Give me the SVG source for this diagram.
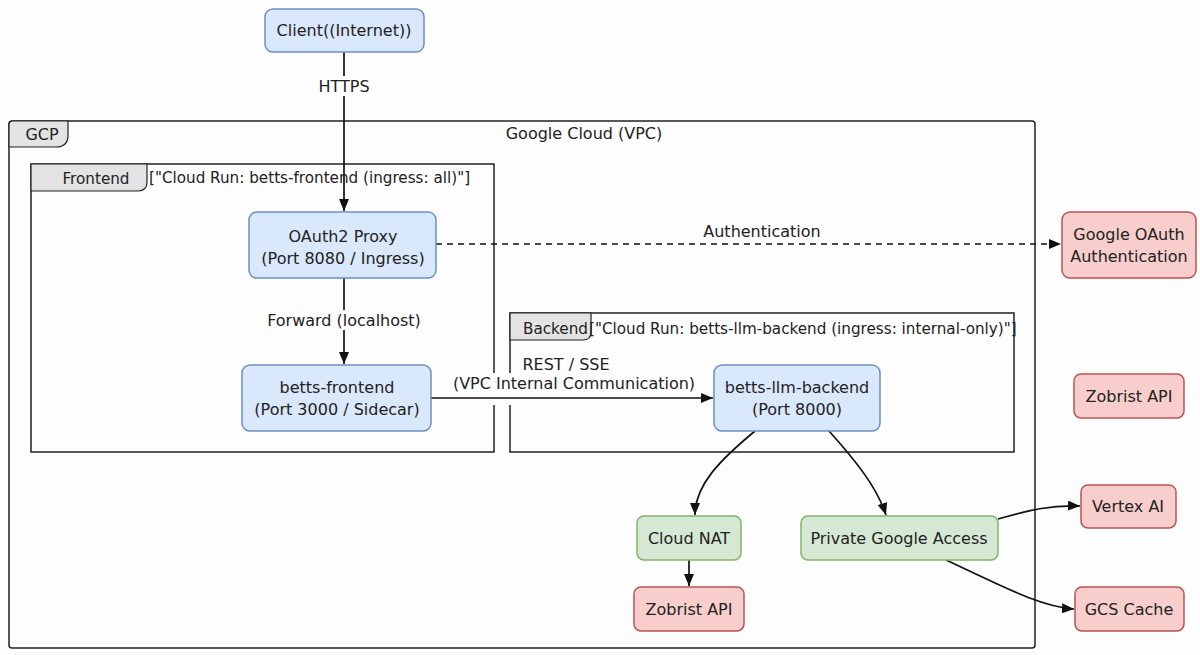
<svg xmlns="http://www.w3.org/2000/svg" width="1200" height="655" viewBox="0 0 1200 655">
<style>
text{font-family:"DejaVu Sans","Liberation Sans",sans-serif;font-size:16px;fill:#222;}
.c{text-anchor:middle;}
.hdr{font-size:15.2px;}
.blue{fill:#dae8fc;stroke:#6c8ebf;stroke-width:1.5;}
.green{fill:#d5e8d4;stroke:#82b366;stroke-width:1.5;}
.red{fill:#f8cecc;stroke:#b85450;stroke-width:1.5;}
.grp{fill:none;stroke:#222;stroke-width:1.5;}
.tab{fill:#e3e3e3;stroke:#222;stroke-width:1.2;}
.edge{fill:none;stroke:#111;stroke-width:1.7;}
.lbl{fill:#fdfdfd;}
</style>
<defs>
<marker id="ah" viewBox="0 0 12 10" refX="12" refY="5" markerWidth="12" markerHeight="10" markerUnits="userSpaceOnUse" orient="auto">
<path d="M0,0 L12,5 L0,10 Z" fill="#111"/>
</marker>
</defs>
<rect width="1200" height="655" fill="#fdfdfd"/>

<g id="gcp">
<rect class="grp" x="9" y="121" width="1026" height="527" rx="3"/>
<path class="tab" d="M9,147 L9,125 Q9,121 13,121 L68,121 L68,135 Q68,147 56,147 Z"/>
<text class="c" x="42" y="140">GCP</text>
<text class="c" x="584" y="139">Google Cloud (VPC)</text>
</g>

<g id="frontend-group">
<rect class="grp" x="31" y="164" width="463" height="288"/>
<path class="tab" d="M31,191 L31,164 L147,164 L147,182 Q147,191 138,191 Z"/>
<text class="c hdr" x="96" y="184">Frontend</text>
<text class="hdr" x="149" y="183">["Cloud Run: betts-frontend (ingress: all)"]</text>
</g>

<g id="backend-group">
<rect class="grp" x="510" y="313" width="504" height="139"/>
<path class="tab" d="M510,340 L510,313 L591,313 L591,332 Q591,340 583,340 Z"/>
<text class="hdr" x="523" y="334">Backend</text>
<text class="hdr" x="589" y="334">["Cloud Run: betts-llm-backend (ingress: internal-only)"]</text>
</g>

<g id="edges">
<path class="edge" d="M344,52 L344,211" marker-end="url(#ah)"/>
<rect class="lbl" x="313" y="76" width="62" height="20"/>
<text class="c" x="344" y="92">HTTPS</text>

<path class="edge" d="M344,278 L344,364" marker-end="url(#ah)"/>
<rect class="lbl" x="266" y="310" width="156" height="20"/>
<text class="c" x="344" y="326">Forward (localhost)</text>

<rect class="lbl" x="455" y="373" width="240" height="32"/>
<path class="edge" d="M431,398 L713,398" marker-end="url(#ah)"/>
<text class="c" x="566" y="370">REST / SSE</text>
<text class="c" x="574" y="389">(VPC Internal Communication)</text>

<path class="edge" d="M436,244 L1061,244" stroke-dasharray="6,5" marker-end="url(#ah)"/>
<text class="c" x="762" y="237">Authentication</text>

<path class="edge" d="M755,431 C720,460 695,485 695,515" marker-end="url(#ah)"/>
<path class="edge" d="M829,431 C855,460 877,487 886,515" marker-end="url(#ah)"/>
<path class="edge" d="M689,560 L689,586" marker-end="url(#ah)"/>
<path class="edge" d="M998,519 C1030,510 1050,505 1080,506" marker-end="url(#ah)"/>
<path class="edge" d="M946,560 C1000,585 1040,607 1074,609" marker-end="url(#ah)"/>
</g>

<g id="client">
<rect class="blue" x="265" y="9" width="159" height="43" rx="8"/>
<text class="c" x="344" y="36">Client((Internet))</text>
</g>
<g id="oauth2-proxy">
<rect class="blue" x="249" y="212" width="187" height="66" rx="8"/>
<text class="c" x="343" y="242">OAuth2 Proxy</text>
<text class="c" x="343" y="264">(Port 8080 / Ingress)</text>
</g>
<g id="betts-frontend">
<rect class="blue" x="242" y="365" width="189" height="66" rx="8"/>
<text class="c" x="337" y="393">betts-frontend</text>
<text class="c" x="337" y="415">(Port 3000 / Sidecar)</text>
</g>
<g id="betts-llm-backend">
<rect class="blue" x="714" y="365" width="166" height="66" rx="8"/>
<text class="c" x="797" y="393">betts-llm-backend</text>
<text class="c" x="797" y="415">(Port 8000)</text>
</g>
<g id="cloud-nat">
<rect class="green" x="637" y="516" width="104" height="44" rx="7"/>
<text class="c" x="689" y="544">Cloud NAT</text>
</g>
<g id="private-google-access">
<rect class="green" x="801" y="516" width="197" height="44" rx="7"/>
<text class="c" x="899" y="544">Private Google Access</text>
</g>
<g id="zobrist-api-nat">
<rect class="red" x="634" y="587" width="110" height="44" rx="7"/>
<text class="c" x="689" y="615">Zobrist API</text>
</g>
<g id="google-oauth">
<rect class="red" x="1062" y="212" width="134" height="66" rx="8"/>
<text class="c" x="1129" y="240">Google OAuth</text>
<text class="c" x="1129" y="262">Authentication</text>
</g>
<g id="zobrist-api">
<rect class="red" x="1074" y="374" width="110" height="44" rx="7"/>
<text class="c" x="1129" y="402">Zobrist API</text>
</g>
<g id="vertex-ai">
<rect class="red" x="1081" y="485" width="95" height="43" rx="7"/>
<text class="c" x="1128" y="512">Vertex AI</text>
</g>
<g id="gcs-cache">
<rect class="red" x="1075" y="587" width="109" height="44" rx="7"/>
<text class="c" x="1129" y="615">GCS Cache</text>
</g>
</svg>
